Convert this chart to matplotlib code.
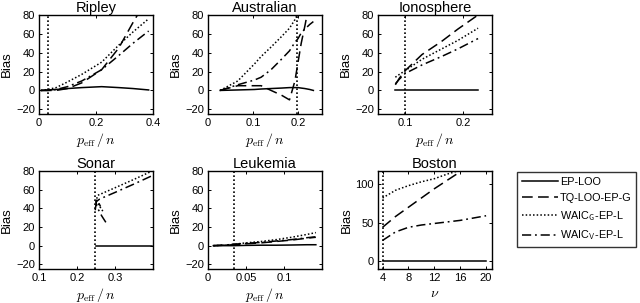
import matplotlib
matplotlib.use("Agg")
import matplotlib.pyplot as plt
from matplotlib.lines import Line2D

plt.rcParams['font.family'] = ['Liberation Sans', 'DejaVu Sans']
plt.rcParams['mathtext.fontset'] = 'cm'

# ---------------- data ----------------
series_labels = ['EP-LOO', 'TQ-LOO-EP-G', r'WAIC$_{\mathsf{G}}$-EP-L', r'WAIC$_{\mathsf{V}}$-EP-L']

# Ripley
rip_x = [0.007, 0.03, 0.06, 0.10, 0.15, 0.22, 0.28, 0.33, 0.385]
rip_loo = [0, 0.5, 1, 2, 3, 4, 3, 2, 0.5]
rip_tq = [0, 0, 0, 2, 8, 22, 45, 72, 100]
rip_wg = [0, 1, 3, 9, 17, 30, 48, 62, 76]
rip_wv = [0, 0, 1, 4, 10, 22, 37, 50, 63]
rip_sel = 0.03

# Australian
aus_x = [0.027, 0.066, 0.103, 0.118, 0.14, 0.163, 0.181, 0.193, 0.20, 0.207, 0.215, 0.226, 0.234]
aus_loo = [0, 0.5, 1, 1.5, 2, 2.5, 3, 3, 3, 2.5, 2, 1, 0]
aus_tq = [0, 5, 5, 5, 0, -5, -10, 10, 30, 50, 68, 95, 110]
aus_wg = [0, 10, 28, 36, 46, 57, 66, 75, 82, 90, 98, 110, 120]
aus_wv = [0, 6, 11, 14, 22, 33, 42, 51, 55, 61, 65, 70, 73]
aus_sel = 0.197

# Ionosphere
ion_x = [0.083, 0.09, 0.10, 0.129, 0.163, 0.191, 0.226]
ion_loo = [0, 0, 0, 0, 0, 0, 0]
ion_tq = [6, 13, 21, 38, 52, 65, 80]
ion_wg = [14, 17, 21, 33, 44, 53, 66]
ion_wv = [7, 12, 18, 27, 36, 44, 55]
ion_sel = 0.10

# Sonar (p_eff/n is not monotone in the hyperparameter)
son_loo_x = [0.25, 0.30, 0.35, 0.398]
son_loo = [0, 0, 0, 0]
son_tq_x = [0.248, 0.252, 0.257, 0.262]
son_tq = [38, 50, 46, 42]
son_wg_x = [0.268, 0.26, 0.25, 0.255, 0.30, 0.35, 0.398]
son_wg = [37, 42, 48, 54, 62, 71, 80]
son_wv_x = [0.276, 0.265, 0.252, 0.25, 0.26, 0.30, 0.35, 0.398]
son_wv = [25, 32, 42, 47, 50, 57, 66, 75]
son_sel = 0.248

# Leukemia
leu_x = [0.007, 0.02, 0.034, 0.05, 0.07, 0.09, 0.11, 0.13, 0.142]
leu_loo = [0, 0, 0, 0.3, 0.5, 0.5, 0.7, 1, 1]
leu_tq = [0, 0.5, 1, 2, 3, 4.5, 6, 8, 9]
leu_wg = [0, 0.5, 1.5, 3, 4.5, 6.5, 9, 12, 14]
leu_wv = [0, 0.5, 1.5, 2.5, 3.5, 5, 6.5, 8.5, 9.5]
leu_sel = 0.034

# Boston (x is nu)
bos_x = [4, 6, 8, 10, 12, 14, 16, 18, 20]
bos_loo = [0, 0, 0, 0, 0, 0, 0, 0, 0]
bos_tq = [44, 58, 70, 82, 94, 105, 116, 126, 135]
bos_wg = [82, 92, 98, 103, 107, 113, 118, 123, 128]
bos_wv = [27, 38, 44, 47, 49, 51, 53, 56, 59]
bos_sel = 4

# ---------------- styles ----------------
styles = [
    dict(linestyle='-', linewidth=1.1),
    dict(linestyle=(0, (7, 3.5)), linewidth=1.1),
    dict(linestyle=(0, (1, 1.4)), linewidth=1.1),
    dict(linestyle=(0, (6, 2.5, 1.2, 2.5)), linewidth=1.1),
]

fig = plt.figure(figsize=(6.4, 3.03), dpi=100)

W = 0.178
cols = [39 / 640, 208 / 640, 378 / 640]
top_row = (1 - 114 / 303, (114 - 15) / 303)
bot_row = (1 - 269 / 303, (269 - 171) / 303)

def make_ax(col, row):
    b, h = row
    ax = fig.add_axes([cols[col], b, W, h])
    ax.tick_params(direction='in', top=True, right=True, labelsize=8, length=2.5, width=0.7, pad=3)
    for s in ax.spines.values():
        s.set_linewidth(1.0)
    ax.set_ylabel('Bias', fontsize=9.5, labelpad=2)
    return ax

def draw(ax, xs, ys, title, sel, xlim, ylim, xticks, yticks, xlabel):
    for (x, y), st in zip(zip(xs, ys), styles):
        ax.plot(x, y, color='black', **st)
    ax.axvline(sel, color='black', linestyle=(0, (1, 1.4)), linewidth=1.2)
    ax.set_xlim(*xlim)
    ax.set_ylim(*ylim)
    ax.set_xticks(xticks)
    ax.set_xticklabels([('%g' % t) for t in xticks])
    ax.set_yticks(yticks)
    ax.set_title(title, fontsize=10.5, pad=2)
    ax.set_xlabel(xlabel, fontsize=10, labelpad=2)

peff = r'$p_{\mathrm{eff}}\,/\,n$'
yt = [-20, 0, 20, 40, 60, 80]

ax = make_ax(0, top_row)
draw(ax, [rip_x] * 4, [rip_loo, rip_tq, rip_wg, rip_wv], 'Ripley', rip_sel,
     (0, 0.4), (-25, 80), [0, 0.2, 0.4], yt, peff)

ax = make_ax(1, top_row)
draw(ax, [aus_x] * 4, [aus_loo, aus_tq, aus_wg, aus_wv], 'Australian', aus_sel,
     (0, 0.253), (-25, 80), [0, 0.1, 0.2], yt, peff)

ax = make_ax(2, top_row)
draw(ax, [ion_x] * 4, [ion_loo, ion_tq, ion_wg, ion_wv], 'Ionosphere', ion_sel,
     (0.053, 0.25), (-25, 80), [0.1, 0.2], yt, peff)

ax = make_ax(0, bot_row)
draw(ax, [son_loo_x, son_tq_x, son_wg_x, son_wv_x], [son_loo, son_tq, son_wg, son_wv], 'Sonar', son_sel,
     (0.1, 0.4), (-25, 80), [0.1, 0.2, 0.3], yt, peff)

ax = make_ax(1, bot_row)
draw(ax, [leu_x] * 4, [leu_loo, leu_tq, leu_wg, leu_wv], 'Leukemia', leu_sel,
     (0, 0.15), (-25, 80), [0, 0.05, 0.1], yt, peff)

ax = make_ax(2, bot_row)
draw(ax, [bos_x] * 4, [bos_loo, bos_tq, bos_wg, bos_wv], 'Boston', bos_sel,
     (3.3, 20.9), (-10, 117), [4, 8, 12, 16, 20], [0, 50, 100], r'$\nu$')

handles = [Line2D([], [], color='black', **st) for st in styles]
leg = fig.legend(handles, series_labels, loc='upper left',
                 bbox_to_anchor=(517 / 640, 1 - 172 / 303), fontsize=7.8,
                 frameon=True, fancybox=False, edgecolor='black',
                 handlelength=3.3, handletextpad=0.2, labelspacing=0.55,
                 borderpad=0.45, borderaxespad=0)
leg.get_frame().set_linewidth(1.0)

fig.savefig('out.png', dpi=100)
